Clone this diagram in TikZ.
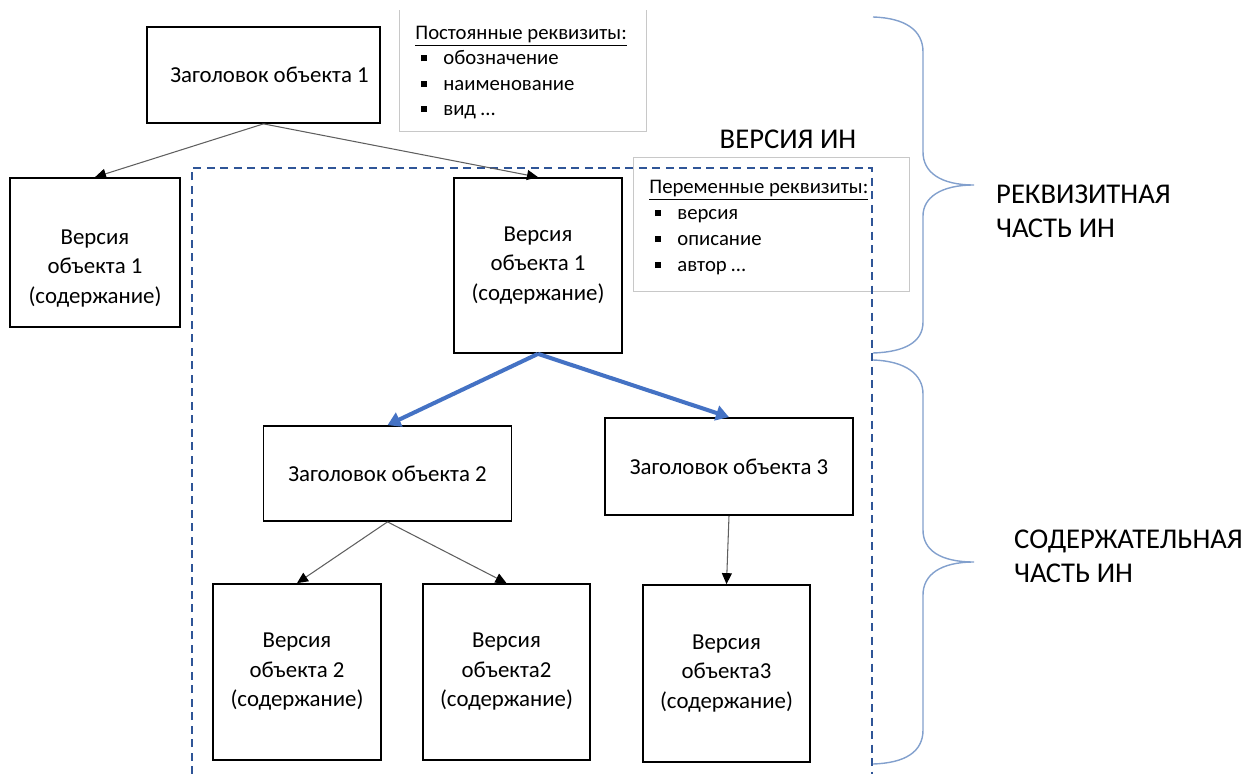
\documentclass[tikz,border=0pt]{standalone}
\usepackage{fontspec}
\setmainfont{Carlito}
\usepackage{tikz}
\usetikzlibrary{arrows.meta,calc}
\usepackage{xcolor}

\definecolor{dashblue}{RGB}{47,85,151}
\definecolor{arrblue}{RGB}{68,114,196}
\definecolor{braceblue}{RGB}{130,160,205}
\definecolor{linegray}{RGB}{95,95,95}
\definecolor{framegray}{RGB}{200,200,200}

% square bullet for the lists
\newcommand{\sqbul}{\makebox[0.56cm][l]{\hspace{0.11cm}\rule[0.07cm]{0.12cm}{0.12cm}}}

\tikzset{
  objbox/.style={draw,line width=1pt,inner sep=0pt,align=center,
    font=\fontsize{13}{16.8}\selectfont},
  boxtext/.style={align=center,font=\fontsize{13}{16.8}\selectfont},
  reqlist/.style={align=left,inner sep=0pt,anchor=north west,
    font=\fontsize{11.8}{14.4}\selectfont},
  biglabel/.style={align=left,anchor=west,font=\fontsize{16.3}{19.5}\selectfont},
  thinarrow/.style={draw=linegray,line width=0.6pt,
    -{Triangle[length=0.22cm,width=0.2cm,black]}},
  bluearrow/.style={draw=arrblue,line width=2.3pt,
    -{Triangle[length=0.26cm,width=0.3cm]}},
  bracecurve/.style={draw=braceblue,line width=0.8pt},
}

\begin{document}
\begin{tikzpicture}[x=0.02cm,y=-0.02cm]
    \useasboundingbox (0,0) rectangle (1255,774);

    % Object boxes
    \node[objbox,minimum width=4.66cm,minimum height=1.92cm] (zag1) at (263.5,75) {\hspace{0.24cm}Заголовок объекта 1};
    \node[objbox,minimum width=3.40cm,minimum height=2.98cm] (ver1a) at (95,252.5) {};
    \node[boxtext] (ver1atxt) at ($(ver1a.center)+(0,16)$) {Версия\\объекта 1\\(содержание)};
    \node[objbox,minimum width=3.36cm,minimum height=3.50cm] (ver1b) at (538,265.5) {Версия\\объекта 1\\(содержание)};
    \node[objbox,minimum width=4.96cm,minimum height=1.90cm] (zag2) at (387.5,473.5) {Заголовок объекта 2};
    \node[objbox,minimum width=4.96cm,minimum height=1.94cm] (zag3) at (729,466.5) {Заголовок объекта 3};
    \node[objbox,minimum width=3.36cm,minimum height=3.52cm] (ver2a) at (297,672) {Версия\\объекта 2\\(содержание)};
    \node[objbox,minimum width=3.34cm,minimum height=3.52cm] (ver2b) at (506.5,672) {Версия\\объекта2\\(содержание)};
    \node[objbox,minimum width=3.34cm,minimum height=3.54cm] (ver3) at (726.5,673.5) {Версия\\объекта3\\(содержание)};

    % Requisite lists
    \draw[framegray] (399,10) -- (399,131) -- (646,131) -- (646,10);
    \node[reqlist] (constreq) at (415,26) {\underline{Постоянные реквизиты:}\\
        \sqbul обозначение\\ \sqbul наименование\\ \sqbul вид \dots};
    \draw[framegray] (633,157) rectangle (909,291);
    \node[reqlist,font=\fontsize{11.8}{14.8}\selectfont] (varreq) at (649,180)
        {\underline{Переменные реквизиты:}\\
        \sqbul версия\\ \sqbul описание\\ \sqbul автор \dots};

    % Version frame
    \node[font=\fontsize{16.3}{19.5}\selectfont] (vertitle) at (788,139) {ВЕРСИЯ ИН};
    \draw[dashblue,line width=1pt,dash pattern=on 0.16cm off 0.11cm]
        (192,774) -- (192,168) -- (872,168) -- (872,774);

    % Connectors
    \draw[thinarrow] (zag1.south) -- (ver1a.north);
    \draw[thinarrow] (zag1.south) -- (ver1b.north);
    \draw[bluearrow] (ver1b.south) -- (zag2.north);
    \draw[bluearrow] (ver1b.south) -- (zag3.north);
    \draw[thinarrow] (zag2.south) -- (ver2a.north);
    \draw[thinarrow] (zag2.south) -- (ver2b.north);
    \draw[thinarrow] (zag3.south) -- (ver3.north);

    % Braces
    \draw[bracecurve] (873,17) .. controls (905,18) and (923,30) .. (923,52)
        -- (923,152) .. controls (923,172) and (940,185) .. (974,185)
        .. controls (940,185) and (923,198) .. (923,216)
        -- (923,322) .. controls (923,342) and (905,352) .. (873,353);
    \draw[bracecurve] (873,360) .. controls (905,361) and (923,374) .. (923,394)
        -- (923,530) .. controls (923,550) and (940,562) .. (974,562)
        .. controls (940,562) and (923,575) .. (923,595)
        -- (923,730) .. controls (923,752) and (905,763) .. (873,764);

    % Part labels
    \node[biglabel] (reqpart) at (990,211) {РЕКВИЗИТНАЯ\\ЧАСТЬ ИН};
    \node[biglabel] (contpart) at (1008,556) {СОДЕРЖАТЕЛЬНАЯ\\ЧАСТЬ ИН};
\end{tikzpicture}
\end{document}
